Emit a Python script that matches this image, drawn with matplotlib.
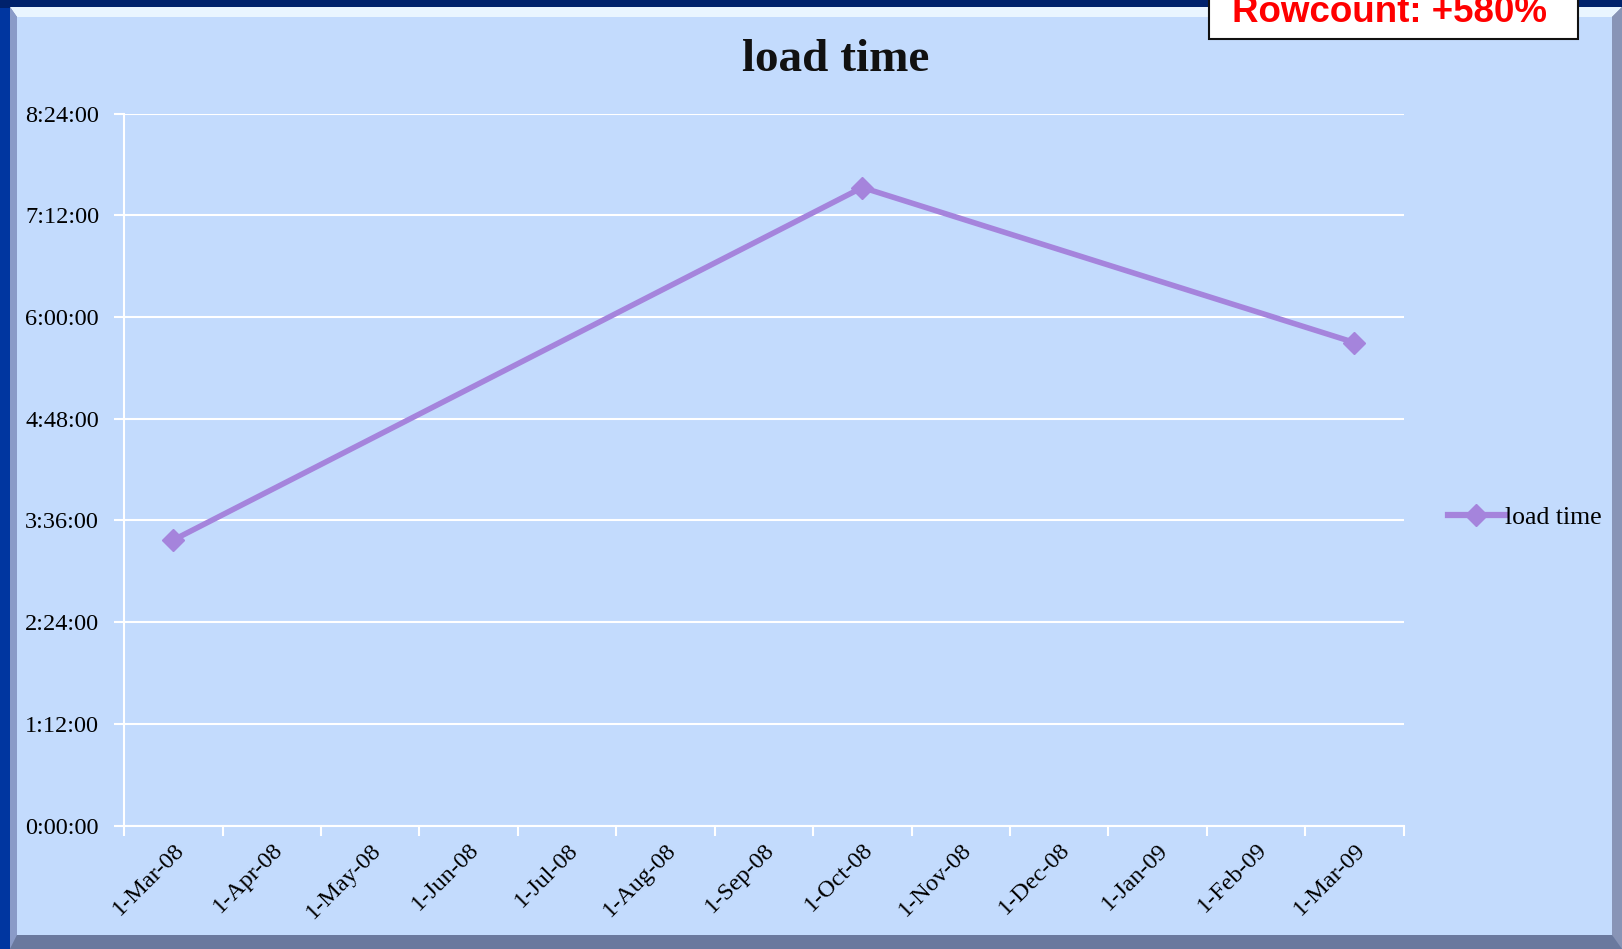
import numpy as np
import matplotlib.pyplot as plt
from matplotlib.patches import Rectangle, Polygon
from matplotlib.ticker import FixedLocator, FuncFormatter, NullFormatter

month_labels = ['1-Mar-08', '1-Apr-08', '1-May-08', '1-Jun-08', '1-Jul-08',
                '1-Aug-08', '1-Sep-08', '1-Oct-08', '1-Nov-08', '1-Dec-08',
                '1-Jan-09', '1-Feb-09', '1-Mar-09']
point_months = ['1-Mar-08', '1-Oct-08', '1-Mar-09']
load_hours = [3.37, 7.53, 5.70]   # hours
y_ticks = [0, 1.2, 2.4, 3.6, 4.8, 6.0, 7.2, 8.4]

W, H = 1622, 949
BG = '#c3dbfd'
LINE = '#a584dc'
SERIF = ['Liberation Serif', 'DejaVu Serif']


def hms(h, pos=None):
    total = int(round(h * 3600))
    return "{0}:{1:02d}:{2:02d}".format(total // 3600, (total % 3600) // 60, total % 60)


fig = plt.figure(figsize=(W / 100, H / 100), dpi=100, facecolor='#0036a0')


# panel with bevelled edges (figure pixel coords -> fractions)
def fpoly(pts, color):
    fig.patches.append(Polygon([(x / W, 1 - y / H) for x, y in pts], closed=True,
                               transform=fig.transFigure, facecolor=color,
                               edgecolor='none', zorder=-2))


fpoly([(0, 0), (W, 0), (W, 8), (0, 8)], '#00226c')
fpoly([(10, 7), (W, 7), (W, H), (10, H)], '#7d8db5')
fpoly([(10, 7), (W, 7), (W - 10, 17), (17, 17)], '#e9f5ff')
fpoly([(10, 7), (17, 17), (17, H - 14), (10, H)], '#8a9bc8')
fpoly([(W, 7), (W - 10, 17), (W - 10, H - 14), (W, H)], '#8894b6')
fpoly([(10, H), (17, H - 14), (W - 10, H - 14), (W, H)], '#6a799e')
fpoly([(17, 17), (W - 10, 17), (W - 10, H - 14), (17, H - 14)], BG)

ax = fig.add_axes([0.0765, 0.1301, 0.8654 - 0.0765, 0.8801 - 0.1301], zorder=1)
ax.set_facecolor(BG)

xs = [month_labels.index(m) for m in point_months]
ax.plot(xs, load_hours, color=LINE, lw=4, marker='D', markersize=11,
        markeredgecolor=LINE, label='load time', zorder=3)

ax.set_xlim(-0.5, len(month_labels) - 0.5)
ax.set_ylim(0, 8.4)

ax.set_yticks(y_ticks)
ax.yaxis.set_major_formatter(FuncFormatter(hms))
ax.grid(axis='y', color='white', lw=1.5)

ax.xaxis.set_major_locator(FixedLocator(np.arange(len(month_labels) + 1) - 0.5))
ax.xaxis.set_major_formatter(NullFormatter())
ax.xaxis.set_minor_locator(FixedLocator(np.arange(len(month_labels))))
ax.set_xticklabels(month_labels, minor=True, rotation=45, ha='right',
                   rotation_mode='anchor', fontsize=17.5, family=SERIF)
ax.tick_params(axis='x', which='minor', length=0, pad=10)
ax.tick_params(axis='x', which='major', length=7, width=1.5, color='white')
ax.tick_params(axis='y', length=7, width=1.5, color='white', pad=11)
for lab in ax.get_yticklabels():
    lab.set_fontsize(17.5)
    lab.set_family(SERIF)

for s in ['top', 'right']:
    ax.spines[s].set_visible(False)
for s in ['left', 'bottom']:
    ax.spines[s].set_color('white')
    ax.spines[s].set_linewidth(1.5)

fig.text(0.515, 0.937, 'load time', ha='center', va='center', fontsize=34,
         fontweight='bold', family=SERIF, color='#111111')

leg = ax.legend(loc='center left', bbox_to_anchor=(0.8865, 0.455),
                bbox_transform=fig.transFigure, frameon=False,
                prop={'family': SERIF, 'size': 18.5}, handlelength=2.2,
                handletextpad=0.0, borderaxespad=0)
for h in leg.legend_handles:
    h.set_linewidth(4.5)

fig.patches.append(Rectangle((1209 / W, 1 - 39 / H), (1578 - 1209) / W, 60 / H,
                             transform=fig.transFigure, facecolor='white',
                             edgecolor='#111111', lw=1.5, zorder=5))
fig.text(1389 / W, 1 - 12 / H, 'Rowcount: +580%', ha='center', va='center',
         fontsize=26.5, fontweight='bold', family='Liberation Sans', color='#ff0000',
         zorder=6)

fig.savefig('out.png', dpi=100, facecolor=fig.get_facecolor())
